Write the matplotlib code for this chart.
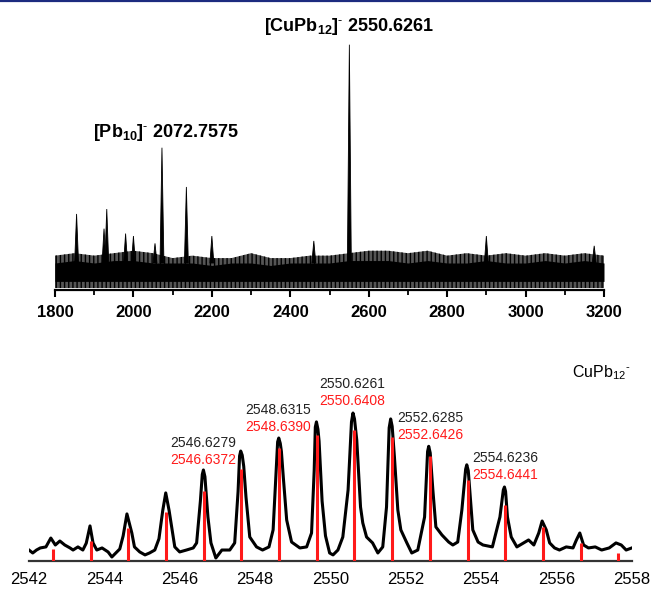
import matplotlib
matplotlib.use("Agg")
import matplotlib.pyplot as plt
from matplotlib.lines import Line2D

plt.rcParams["font.family"] = "Liberation Sans"
plt.rcParams["mathtext.fontset"] = "custom"
plt.rcParams["mathtext.rm"] = "Liberation Sans"
plt.rcParams["mathtext.bf"] = "Liberation Sans:bold"
plt.rcParams["hatch.linewidth"] = 1.0

# ---- top panel: survey spectrum (relative intensity, tallest peak = 100) ----
survey_peak_mz = [1855, 1925, 1932, 1980, 2000, 2055, 2072.76, 2135, 2200, 2460, 2550.63, 2900, 3175]
survey_peak_int = [31, 25, 33, 23, 22, 19, 58, 42, 22, 20, 100, 22, 18]

noise_mz = [1800, 1850, 1900, 1950, 2000, 2050, 2100, 2150, 2200, 2250, 2300, 2350, 2400, 2450,
            2500, 2550, 2600, 2650, 2700, 2750, 2800, 2850, 2900, 2950, 3000, 3050, 3100, 3150, 3200]
noise_fringe_top = [14, 15, 14, 15, 16, 15, 13, 14, 13, 13, 15, 13, 13, 14,
                    14, 15, 16, 16, 15, 16, 14, 15, 14, 15, 14, 15, 14, 15, 14]
noise_core_top = [11, 12, 11, 12, 12, 11, 11, 11, 10, 11, 11, 10, 11, 11,
                  11, 12, 12, 12, 11, 12, 11, 11, 12, 11, 11, 12, 11, 12, 11]
noise_core_bottom = [3.5] * len(noise_mz)
noise_fringe_bottom = [0.8] * len(noise_mz)

# ---- bottom panel: CuPb12- isotope pattern ----
exp_mz = [2542.00, 2542.10, 2542.20, 2542.30, 2542.45, 2542.58, 2542.70, 2542.82, 2542.95, 2543.09,
          2543.17, 2543.30, 2543.43, 2543.52, 2543.62, 2543.70, 2543.80, 2543.94, 2544.10, 2544.20,
          2544.33, 2544.41, 2544.50, 2544.60, 2544.73, 2544.80, 2544.94, 2545.08, 2545.20, 2545.34,
          2545.45, 2545.55, 2545.63, 2545.72, 2545.80, 2545.87, 2546.00, 2546.18, 2546.36, 2546.45,
          2546.55, 2546.60, 2546.63, 2546.67, 2546.75, 2546.83, 2546.96, 2547.12, 2547.33, 2547.46,
          2547.55, 2547.59, 2547.62, 2547.66, 2547.70, 2547.76, 2547.86, 2548.04, 2548.20, 2548.37,
          2548.48, 2548.56, 2548.60, 2548.63, 2548.67, 2548.70, 2548.75, 2548.84, 2548.97, 2549.19,
          2549.37, 2549.50, 2549.57, 2549.60, 2549.63, 2549.67, 2549.70, 2549.78, 2549.87, 2549.98,
          2550.07, 2550.20, 2550.33, 2550.47, 2550.56, 2550.60, 2550.64, 2550.70, 2550.80, 2550.86,
          2550.96, 2551.12, 2551.26, 2551.39, 2551.49, 2551.56, 2551.60, 2551.64, 2551.70, 2551.79,
          2551.87, 2552.03, 2552.16, 2552.32, 2552.50, 2552.58, 2552.61, 2552.65, 2552.72, 2552.80,
          2552.96, 2553.14, 2553.25, 2553.38, 2553.49, 2553.59, 2553.62, 2553.66, 2553.72, 2553.78,
          2553.92, 2554.05, 2554.30, 2554.50, 2554.59, 2554.62, 2554.65, 2554.70, 2554.80, 2554.95,
          2555.13, 2555.26, 2555.40, 2555.53, 2555.62, 2555.73, 2555.82, 2555.95, 2556.08, 2556.26,
          2556.44, 2556.53, 2556.62, 2556.72, 2556.85, 2557.03, 2557.20, 2557.40, 2557.58, 2557.72,
          2557.85, 2558.00]
exp_int = [7.4, 5.4, 7.4, 8.8, 9.5, 15.5, 10.8, 13.5, 10.8, 8.8,
           7.4, 9.5, 7.4, 12.0, 23.7, 12.2, 7.4, 8.8, 6.1, 2.7,
           6.1, 8.1, 17.0, 31.8, 18.9, 9.5, 6.1, 4.1, 5.4, 7.4,
           15.0, 34.0, 46.0, 34.0, 21.0, 9.5, 6.1, 7.4, 8.8, 12.2,
           40.6, 58.5, 61.5, 57.0, 29.7, 12.2, 2.0, 7.4, 7.4, 12.2,
           47.0, 71.0, 74.3, 71.5, 64.0, 43.2, 16.2, 9.5, 7.4, 9.5,
           21.0, 61.0, 80.5, 83.1, 79.5, 74.0, 56.8, 27.7, 12.8, 8.8,
           9.5, 18.9, 61.0, 90.5, 94.0, 89.0, 81.0, 40.5, 17.0, 5.4,
           4.1, 7.4, 16.2, 48.0, 94.0, 100.0, 96.0, 81.8, 36.5, 25.7,
           16.2, 12.2, 5.4, 9.5, 36.5, 90.0, 96.0, 91.0, 70.3, 34.5,
           21.0, 12.2, 5.4, 7.4, 29.7, 74.0, 77.5, 73.0, 48.0, 23.0,
           17.6, 12.8, 10.8, 12.8, 34.5, 62.0, 65.0, 61.0, 41.2, 21.0,
           12.8, 10.8, 9.5, 29.7, 48.0, 50.0, 47.0, 29.7, 16.2, 9.5,
           12.2, 14.2, 10.8, 18.9, 27.0, 21.0, 12.2, 8.8, 7.4, 9.5,
           8.8, 14.2, 18.9, 10.8, 8.8, 9.5, 7.4, 8.8, 12.2, 10.8,
           7.4, 8.8]

calc_mz = [2542.64, 2543.64, 2544.64, 2545.64, 2546.64, 2547.64, 2548.64, 2549.64,
           2550.64, 2551.64, 2552.64, 2553.64, 2554.64, 2555.64, 2556.64, 2557.64]
calc_int = [8.1, 13.5, 22.3, 33.1, 47.3, 62.2, 76.4, 85.2, 88.6, 83.8, 71.0, 54.8, 37.9, 23.0, 12.2, 5.4]

label_mz = [2546.63, 2548.60, 2550.57, 2552.64, 2554.63]
label_exp = ["2546.6279", "2548.6315", "2550.6261", "2552.6285", "2554.6236"]
label_calc = ["2546.6372", "2548.6390", "2550.6408", "2552.6426", "2554.6441"]
label_y = [79.8, 102.0, 119.7, 96.7, 69.6]

fig = plt.figure(figsize=(6.51, 5.90), dpi=100)

# blue rule at the very top
fig.add_artist(Line2D([0, 1], [0.998, 0.998], transform=fig.transFigure,
                      color="#1c2b7f", lw=1.6))

# ---------------- top panel ----------------
ax1 = fig.add_axes([0.0845, 0.5085, 0.8433, 0.4407])
ax1.fill_between(noise_mz, noise_fringe_bottom, noise_fringe_top, facecolor="#555555",
                 edgecolor="black", hatch="||||", lw=0)
ax1.fill_between(noise_mz, noise_core_bottom, noise_core_top, color="black", lw=0)

hw = 5  # half width of a survey peak at its base (m/z units)
for mz, h in zip(survey_peak_mz, survey_peak_int):
    ax1.fill([mz - hw, mz, mz + hw], [noise_core_top[0], h, noise_core_top[0]],
             color="black", lw=0.6)

ax1.set_xlim(1800, 3200)
ax1.set_ylim(0, 106)
ax1.set_yticks([])
for s in ["left", "right", "top"]:
    ax1.spines[s].set_visible(False)
ax1.spines["bottom"].set_linewidth(1.6)
ax1.set_xticks(range(1800, 3201, 200))
ax1.set_xticks(range(1900, 3200, 200), minor=True)
ax1.tick_params(axis="x", which="major", length=5, width=1.5, pad=6, labelsize=12)
ax1.tick_params(axis="x", which="minor", length=3.5, width=1.3)
for t in ax1.get_xticklabels():
    t.set_fontweight("bold")

ax1.text(2083, 64, r"[Pb$_{\mathbf{10}}$]$^{\mathbf{\text{-}}}$ 2072.7575", ha="center",
         va="center", fontsize=13, fontweight="bold")
ax1.text(2550, 107.5, r"[CuPb$_{\mathbf{12}}$]$^{\mathbf{\text{-}}}$ 2550.6261", ha="center",
         va="center", fontsize=13, fontweight="bold")

# ---------------- bottom panel ----------------
ax2 = fig.add_axes([0.0445, 0.0492, 0.926, 0.3576])
ax2.vlines(calc_mz, 0, calc_int, color="#ff1a1a", lw=2.2, zorder=3)
ax2.plot(exp_mz, exp_int, color="black", lw=2.2, solid_joinstyle="round", zorder=2)

for mz, y, e, c in zip(label_mz, label_y, label_exp, label_calc):
    ax2.text(mz, y, e, ha="center", va="center", fontsize=10, color="#222222")
    ax2.text(mz, y - 11.3, c, ha="center", va="center", fontsize=10, color="#ff1a1a")

ax2.text(2557.2, 127, r"CuPb$_{12}$$^{\text{-}}$", ha="center", va="center", fontsize=11.5)

ax2.set_xlim(2542, 2558)
ax2.set_ylim(0, 142.6)
ax2.set_yticks([])
for s in ["left", "right", "top"]:
    ax2.spines[s].set_visible(False)
ax2.spines["bottom"].set_linewidth(1.6)
ax2.spines["bottom"].set_color("#333333")
ax2.set_xticks(range(2542, 2559, 2))
ax2.tick_params(axis="x", length=0, pad=8, labelsize=12)

fig.savefig("out.png", dpi=100)
